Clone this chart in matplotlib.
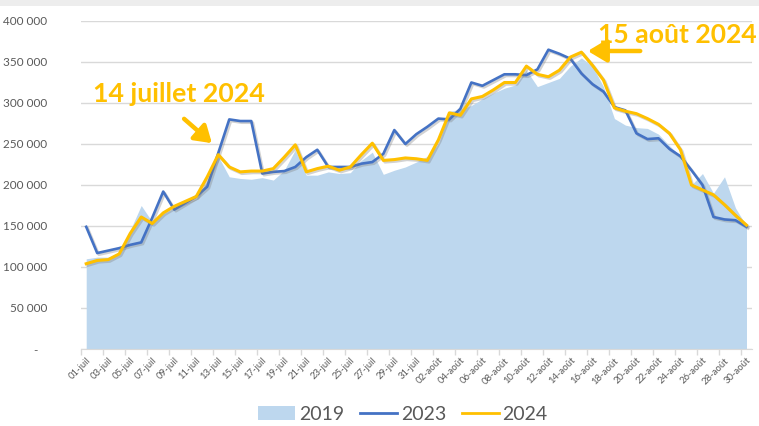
import matplotlib
matplotlib.use("Agg")
import matplotlib.pyplot as plt
import matplotlib.patheffects as pe
from matplotlib.patches import FancyArrowPatch, Patch, Rectangle
from matplotlib.lines import Line2D
from matplotlib.ticker import FuncFormatter, FixedLocator

plt.rcParams['font.family'] = ['Lato', 'DejaVu Sans']

# ---- data (values in thousands) ----
dates = [f"{d:02d}-juil" for d in range(1, 32)] + [f"{d:02d}-août" for d in range(1, 31)]
v2019 = [110, 112, 112, 118, 145, 175, 155, 165, 172, 177, 183, 205, 235, 210, 208, 207,
         209, 206, 218, 243, 212, 212, 216, 214, 215, 230, 240, 213, 218, 222, 228, 235,
         250, 290, 292, 297, 305, 312, 318, 322, 340, 320, 325, 330, 345, 355, 345, 320,
         281, 273, 270, 269, 262, 248, 235, 200, 214, 190, 210, 172, 150]
v2023 = [149, 117, 120, 123, 127, 130, 160, 192, 170, 178, 186, 198, 239, 280, 278, 278,
         214, 216, 217, 222, 234, 243, 222, 222, 222, 226, 228, 238, 267, 250, 262, 271,
         281, 280, 293, 325, 321, 328, 335, 335, 334, 341, 365, 360, 354, 336, 323, 314,
         295, 291, 263, 256, 257, 244, 235, 218, 200, 161, 158, 157, 149]
v2024 = [104, 108, 109, 116, 141, 161, 153, 166, 174, 180, 186, 210, 237, 222, 216, 217,
         217, 220, 234, 249, 216, 220, 223, 218, 222, 237, 251, 230, 231, 233, 232, 230,
         255, 288, 285, 305, 308, 316, 325, 325, 345, 335, 332, 340, 356, 362, 346, 328,
         294, 290, 287, 281, 274, 263, 243, 200, 194, 188, 176, 163, 151]
series_names = ["2019", "2023", "2024"]
y_ticks = [0, 50000, 100000, 150000, 200000, 250000, 300000, 350000, 400000]
annot1 = "14 juillet 2024"
annot2 = "15 août 2024"

C_AREA = "#BDD7EE"
C_2023 = "#4472C4"
C_2024 = "#FFC000"
C_TXT = "#595959"
C_GRID = "#D9D9D9"

W, H = 759, 426
fig = plt.figure(figsize=(W / 100, H / 100), dpi=100)

def fx(x):
    return x / W

def fy(y):
    return 1 - y / H

# top grey band
fig.add_artist(Rectangle((0, fy(6)), 1, 6 / H, transform=fig.transFigure,
                         color="#EDEDED", lw=0, zorder=0))

ax = fig.add_axes([fx(80.7), fy(349), (752 - 80.7) / W, (349 - 21) / H])

x = list(range(len(dates)))
y19 = [v * 1000 for v in v2019]
y23 = [v * 1000 for v in v2023]
y24 = [v * 1000 for v in v2024]

ax.fill_between(x, 0, y19, color=C_AREA, lw=0, zorder=2)
shadow = [pe.SimpleLineShadow(offset=(1.2, -1.2), shadow_color="#7f7f7f", alpha=0.35), pe.Normal()]
ax.plot(x, y23, color=C_2023, lw=1.9, zorder=3, path_effects=shadow, solid_joinstyle="round")
ax.plot(x, y24, color=C_2024, lw=2.2, zorder=4, path_effects=shadow, solid_joinstyle="round")

ax.set_xlim(-0.5, len(dates) - 0.5)
ax.set_ylim(0, 400000)

# y axis
ax.set_yticks(y_ticks)
ax.yaxis.set_major_formatter(FuncFormatter(
    lambda v, p: "-   " if v == 0 else f"{v:,.0f}".replace(",", " ")))
ax.tick_params(axis="y", length=0, pad=24, labelsize=8.5, labelcolor=C_TXT)
ax.grid(axis="y", color=C_GRID, lw=1, zorder=1)
ax.set_axisbelow(True)

# x axis
ax.set_xticks(x[::2])
ax.set_xticklabels(dates[::2], rotation=45, ha="right", rotation_mode="anchor")
ax.xaxis.set_minor_locator(FixedLocator([i - 0.5 for i in range(0, len(dates) + 1, 2)]))
ax.tick_params(axis="x", which="major", length=0, pad=5, labelsize=6.8, labelcolor=C_TXT)
ax.tick_params(axis="x", which="minor", length=4, color=C_GRID, width=1)

for s in ["top", "right", "left"]:
    ax.spines[s].set_visible(False)
ax.spines["bottom"].set_color(C_GRID)

# legend
handles = [Patch(facecolor=C_AREA, edgecolor="none"),
           Line2D([0], [0], color=C_2023, lw=2),
           Line2D([0], [0], color=C_2024, lw=2)]
fig.legend(handles, series_names, loc="center", bbox_to_anchor=(fx(403), fy(414)),
           ncol=3, frameon=False, fontsize=14, labelcolor=C_TXT,
           handlelength=1.9, handletextpad=0.2, columnspacing=0.8)

# annotations
fig.text(fx(93), fy(102), annot1, color=C_2024, fontsize=19.3, fontweight="bold",
         ha="left", va="baseline")
fig.text(fx(598), fy(43), annot2, color=C_2024, fontsize=19.1, fontweight="bold",
         ha="left", va="baseline")

arr1 = FancyArrowPatch((fx(182), fy(117)), (fx(214), fy(145)), transform=fig.transFigure,
                       arrowstyle="-|>,head_length=0.7,head_width=0.45", mutation_scale=14,
                       color=C_2024, lw=3.2)
arr2 = FancyArrowPatch((fx(643), fy(51)), (fx(585), fy(51)), transform=fig.transFigure,
                       arrowstyle="-|>,head_length=0.75,head_width=0.45", mutation_scale=15,
                       color=C_2024, lw=3.2)
fig.add_artist(arr1)
fig.add_artist(arr2)

fig.savefig("out.png", dpi=100)
